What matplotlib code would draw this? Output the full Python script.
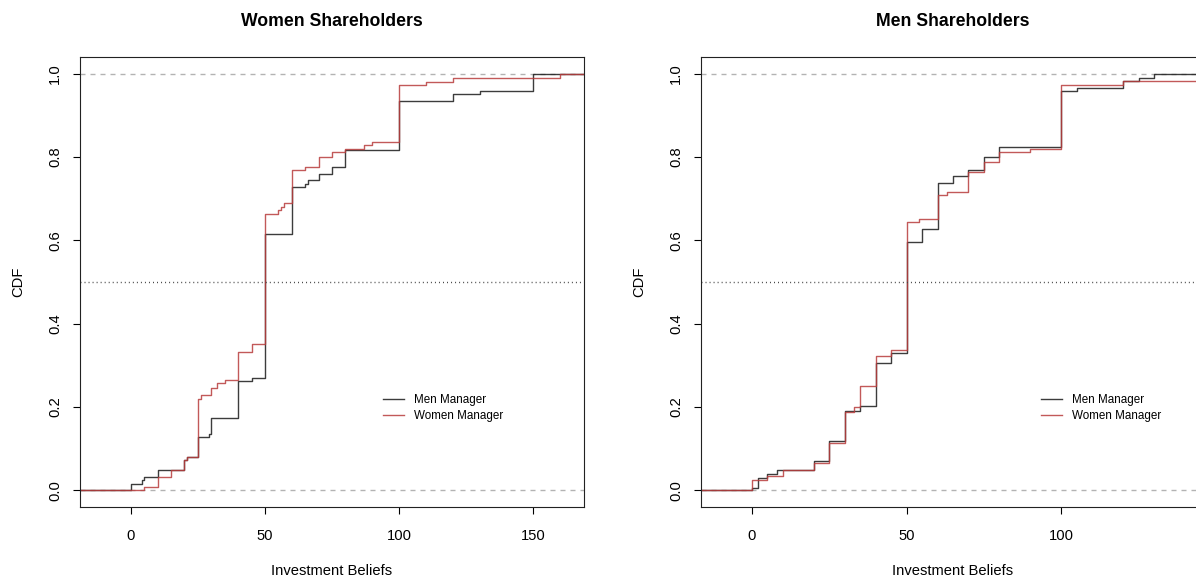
import matplotlib.pyplot as plt

plt.rcParams['font.family'] = ['Liberation Sans', 'DejaVu Sans']

# Women shareholders: ECDF of beliefs, by manager gender
ws_men_x = [0, 4, 5, 10, 20, 21, 25, 29, 30, 40, 45, 50, 60, 65, 66, 70, 75, 80,
            100, 120, 130, 150]
ws_men_y = [0.016, 0.025, 0.032, 0.049, 0.074, 0.080, 0.128, 0.136, 0.174, 0.263,
            0.270, 0.616, 0.728, 0.736, 0.744, 0.760, 0.776, 0.816, 0.934, 0.951,
            0.958, 1.0]
ws_women_x = [5, 10, 15, 20, 21, 25, 26, 30, 32, 35, 40, 45, 50, 55, 56, 57, 60,
              65, 70, 75, 80, 87, 90, 100, 110, 120, 160]
ws_women_y = [0.009, 0.032, 0.050, 0.074, 0.080, 0.220, 0.230, 0.246, 0.258, 0.266,
              0.332, 0.351, 0.664, 0.674, 0.680, 0.690, 0.768, 0.776, 0.801, 0.811,
              0.819, 0.828, 0.837, 0.972, 0.980, 0.990, 1.0]

# Men shareholders
ms_men_x = [0, 2, 5, 8, 20, 25, 30, 35, 40, 45, 50, 55, 60, 65, 70, 75, 80, 100,
            105, 120, 125, 130]
ms_men_y = [0.006, 0.030, 0.040, 0.048, 0.070, 0.118, 0.190, 0.203, 0.305, 0.329,
            0.597, 0.628, 0.738, 0.754, 0.770, 0.801, 0.825, 0.958, 0.966, 0.982,
            0.990, 1.0]
ms_women_x = [0, 5, 10, 20, 25, 30, 33, 35, 40, 45, 50, 54, 60, 63, 70, 75, 80, 90,
              100, 120, 150]
ms_women_y = [0.024, 0.034, 0.048, 0.066, 0.114, 0.188, 0.200, 0.250, 0.323, 0.337,
              0.643, 0.652, 0.708, 0.716, 0.764, 0.788, 0.813, 0.820, 0.974, 0.982,
              1.0]

labels = ['Men Manager', 'Women Manager']
colors = ['#1a1a1a', '#b83c3c']
yticks = [0.0, 0.2, 0.4, 0.6, 0.8, 1.0]

W, H = 1196, 577
fig = plt.figure(figsize=(W / 100, H / 100), dpi=100)


def ecdf_panel(rect, title, xlim, xticks, series, leg_xy):
    ax = fig.add_axes([rect[0] / W, 1 - rect[3] / H, (rect[2] - rect[0]) / W,
                       (rect[3] - rect[1]) / H])
    ax.set_xlim(xlim)
    ax.set_ylim(-0.04, 1.04)
    ax.axhline(0, color='#b3b3b3', lw=1, dashes=(3.6, 3.6))
    ax.axhline(1, color='#b3b3b3', lw=1, dashes=(3.6, 3.6))
    for (xs, ys), col, lab in zip(series, colors, labels):
        ax.step([xlim[0]] + xs + [xlim[1]], [0] + ys + [ys[-1]], where='post',
                color=col, lw=1, alpha=0.85, label=lab)
    ax.axhline(0.5, color='#444444', lw=1, dashes=(0.7, 2.2))

    ax.set_xticks(xticks)
    ax.set_yticks(yticks)
    ax.set_yticklabels(['%.1f' % v for v in yticks], rotation=90, va='center')
    ax.tick_params(length=5, width=0.8, labelsize=10.6, direction='out')
    ax.tick_params(axis='x', pad=11)
    ax.tick_params(axis='y', pad=8)
    for sp in ax.spines.values():
        sp.set_color('#222222')
        sp.set_linewidth(0.8)

    ax.set_title(title, fontsize=12.7, fontweight='bold', pad=22)
    ax.set_xlabel('Investment Beliefs', fontsize=10.6, labelpad=15)
    ax.set_ylabel('CDF', fontsize=10.6, labelpad=16)
    ax.legend(loc='upper left', bbox_to_anchor=(leg_xy[0] / W, 1 - leg_xy[1] / H),
              bbox_transform=fig.transFigure, frameon=False, fontsize=8.4,
              handlelength=1.8, handletextpad=0.9, labelspacing=0.35,
              borderpad=0, borderaxespad=0)
    return ax


ecdf_panel((80, 57, 584, 507), 'Women Shareholders', (-18.96, 168.96),
           [0, 50, 100, 150],
           [(ws_men_x, ws_men_y), (ws_women_x, ws_women_y)], (383, 394))
ecdf_panel((701, 57, 1205, 507), 'Men Shareholders', (-16.43, 146.43),
           [0, 50, 100],
           [(ms_men_x, ms_men_y), (ms_women_x, ms_women_y)], (1041, 394))

fig.savefig('out.png', dpi=100)
